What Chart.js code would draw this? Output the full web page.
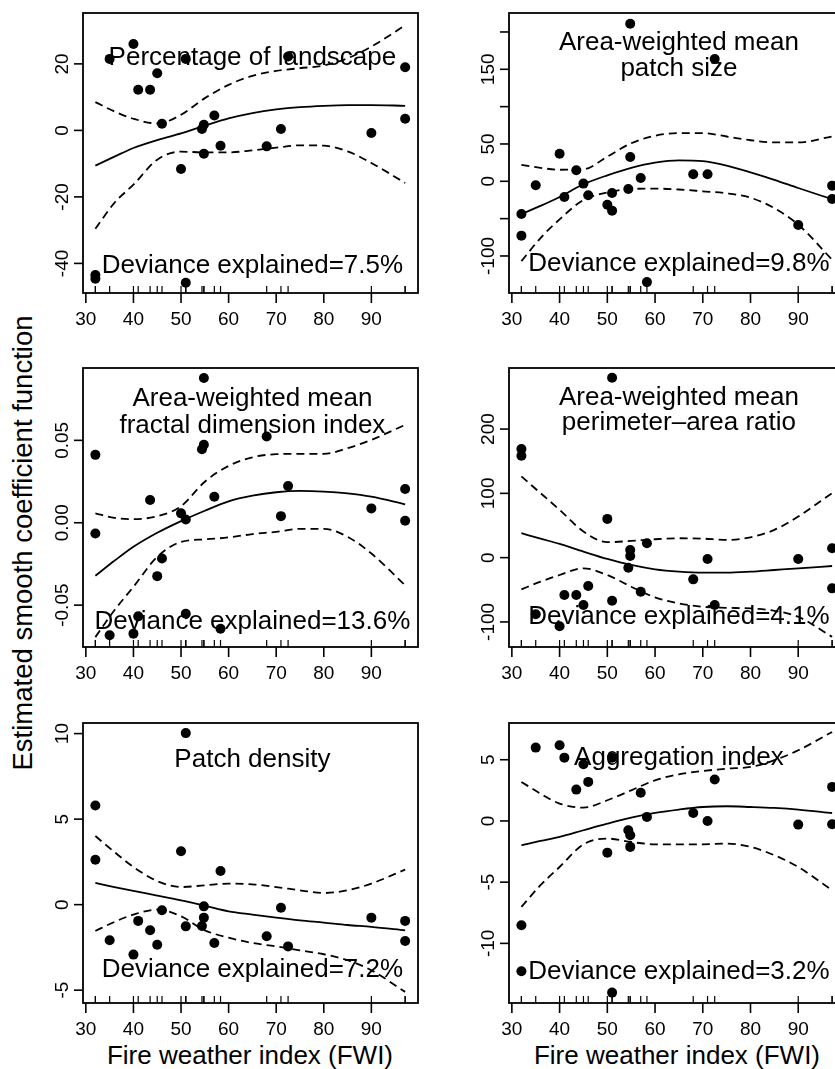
<!DOCTYPE html>
<html><head><meta charset="utf-8">
<script src="https://cdn.jsdelivr.net/npm/chart.js@4.4.0/dist/chart.umd.min.js"></script>
<style>
html,body{margin:0;padding:0;background:#fff;overflow:hidden;width:835px;height:1069px;}
#wrap{position:relative;width:835px;height:1069px;overflow:hidden;background:#fff;}
canvas{position:absolute;}
.lab{position:absolute;font-family:"Liberation Sans",Arial,sans-serif;color:#000;white-space:nowrap;line-height:1;}
</style></head>
<body><div id="wrap">
<div class="lab" id="ylab" style="font-size:27.5px;left:23px;top:543px;transform:translate(-50%,-50%) rotate(-90deg);">Estimated smooth coefficient function</div>
<div class="lab" style="font-size:26px;left:250px;top:1042px;transform:translateX(-50%);">Fire weather index (FWI)</div>
<div class="lab" style="font-size:26px;left:677px;top:1042px;transform:translateX(-50%);">Fire weather index (FWI)</div>
</div>
<script>
// ---------------- data ----------------
const xTickValues = [30, 40, 50, 60, 70, 80, 90];
const fwi = [32, 32, 35, 40, 41, 43.5, 45, 46, 50, 51, 51, 54.4, 54.8, 54.8, 57, 58.3, 68, 71, 72.5, 90, 97.1, 97.1];
const curveX = [32, 36, 40, 45, 50, 55, 60, 65, 70, 75, 80, 85, 90, 97.1];

// Percentage of landscape
const landY = [-43.5, -44.6, 21.5, 26, 12.2, 12.2, 17.2, 2, -11.6, 21.5, -45.8, 0.4, 1.7, -7, 4.5, -4.6, -4.8, 0.4, 22.2, -0.8, 19, 3.5];
const landFit = [-10.6, -7.9, -5.3, -2.9, -0.9, 1.4, 3.6, 5.2, 6.3, 7.0, 7.4, 7.6, 7.6, 7.4];
const landUpper = [8.5, 5.7, 3.5, 2.1, 4.7, 9.7, 13.7, 16.4, 17.9, 18.7, 19.5, 21.7, 25.2, 31.6];
const landLower = [-29.6, -21.8, -16.3, -8.8, -6.4, -6.6, -6.6, -6.0, -5.2, -4.5, -4.6, -6.3, -9.8, -15.8];
const landTicks = [-40, -20, 0, 20];
const landTickLabels = ['-40', '-20', '0', '20'];

// Area-weighted mean patch size
const sizeY = [-43.8, -72.8, -5.4, 37, -21, 14.7, -3.1, -18.8, -31.3, -15.6, -39.3, -10.3, 32.6, 211, 4.5, -135, 9.4, 9.4, 163.8, -58.5, -5.8, -23.7];
const sizeFit = [-44, -33, -21, -4, 8, 18, 25, 28, 27, 21, 12, 2, -9, -24];
const sizeUpper = [22, 18, 15.5, 16, 33, 51, 61, 64.5, 64.5, 60, 55, 52, 52, 60];
const sizeLower = [-107, -76, -51, -25, -15, -10.3, -9.8, -11, -13.4, -16, -22, -36, -58, -105];
const sizeTicks = [-100, -50, 0, 50, 100, 150, 200];
const sizeTickLabels = ['-100', '', '0', '50', '', '150', ''];

// Area-weighted mean fractal dimension index
const fracY = [0.0412, -0.0065, -0.0683, -0.0673, -0.0568, 0.0138, -0.0324, -0.0217, 0.0057, 0.002, -0.0552, 0.0446, 0.0473, 0.0878, 0.0158, -0.0643, 0.0523, 0.004, 0.0223, 0.0087, 0.0205, 0.0012];
const fracFit = [-0.0322, -0.0231, -0.0146, -0.0061, 0.001, 0.0073, 0.013, 0.0164, 0.0185, 0.0193, 0.0189, 0.0178, 0.0158, 0.0112];
const fracUpper = [0.0057, 0.003, 0.0022, 0.0040, 0.0100, 0.0249, 0.0345, 0.0397, 0.0416, 0.0418, 0.0418, 0.0452, 0.0503, 0.0594];
const fracLower = [-0.0694, -0.0531, -0.0389, -0.0207, -0.0116, -0.0101, -0.0089, -0.0069, -0.0055, -0.0037, -0.0037, -0.0085, -0.0187, -0.0379];
const fracTicks = [-0.05, 0, 0.05];
const fracTickLabels = ['-0.05', '0.00', '0.05'];

// Area-weighted mean perimeter-area ratio
const paraY = [169, 158.6, -88, -106.6, -58.2, -58.2, -73.8, -44.2, 60.3, 279.8, -67, -15.6, 2.6, 12, -53, 22.4, -33.8, -2, -73.8, -2, 14.6, -47.8];
const paraFit = [38, 29.6, 21.3, 9.4, -2, -11.4, -18.2, -21.8, -23.4, -23.4, -21.8, -19.2, -16.6, -13];
const paraUpper = [126.4, 100.4, 74.4, 40.6, 24, 26, 28.6, 30.2, 29.6, 27.6, 31.7, 43.2, 64, 100.4];
const paraLower = [-49.4, -37.4, -27, -16.6, -27, -45.2, -61.9, -71.2, -76.4, -78, -79, -82.7, -92, -123.2];
const paraTicks = [-100, 0, 100, 200];
const paraTickLabels = ['-100', '0', '100', '200'];

// Patch density
const densY = [5.8, 2.63, -2.08, -2.92, -0.95, -1.5, -2.34, -0.33, 3.12, 10.03, -1.27, -1.25, -0.76, -0.1, -2.24, 1.97, -1.85, -0.18, -2.44, -0.76, -0.95, -2.12];
const densFit = [1.27, 1.03, 0.8, 0.53, 0.25, -0.06, -0.39, -0.58, -0.76, -0.92, -1.05, -1.19, -1.3, -1.5];
const densUpper = [4.01, 3.08, 2.2, 1.38, 1.03, 1.13, 1.23, 1.19, 1.03, 0.84, 0.68, 0.84, 1.23, 2.05];
const densLower = [-1.54, -1.01, -0.58, -0.29, -0.68, -1.5, -1.93, -2.24, -2.44, -2.67, -2.9, -3.25, -3.84, -5.1];
const densTicks = [-5, 0, 5, 10];
const densTickLabels = ['-5', '0', '5', '10'];

// Aggregation index
const aggY = [-8.52, -12.28, 5.99, 6.18, 5.17, 2.56, 4.63, 3.19, -2.59, 5.17, -14.02, -0.76, -1.17, -2.12, 2.31, 0.33, 0.65, 0, 3.38, -0.3, 2.78, -0.27];
const aggFit = [-1.99, -1.63, -1.31, -0.76, -0.22, 0.27, 0.65, 0.93, 1.14, 1.2, 1.14, 1.06, 0.93, 0.65];
const aggUpper = [3.19, 2.23, 1.42, 1.09, 1.69, 2.5, 3.32, 3.81, 4.08, 4.27, 4.41, 4.96, 5.77, 7.27];
const aggLower = [-7.02, -5.25, -3.76, -1.91, -1.44, -1.72, -1.91, -1.91, -1.91, -1.85, -2.12, -2.8, -3.76, -5.66];
const aggTicks = [-10, -5, 0, 5];
const aggTickLabels = ['-10', '-5', '0', '5'];

const titles = [
  ['Percentage of landscape'],
  ['Area-weighted mean', 'patch size'],
  ['Area-weighted mean', 'fractal dimension index'],
  ['Area-weighted mean', 'perimeter\u2013area ratio'],
  ['Patch density'],
  ['Aggregation index']
];
const deviance = ['7.5%', '9.8%', '13.6%', '4.1%', '7.2%', '3.2%'];

// ---------------- panels (data bundles) ----------------
const panelData = [
  {y: landY, fit: landFit, up: landUpper, lo: landLower, ticks: landTicks, labels: landTickLabels},
  {y: sizeY, fit: sizeFit, up: sizeUpper, lo: sizeLower, ticks: sizeTicks, labels: sizeTickLabels},
  {y: fracY, fit: fracFit, up: fracUpper, lo: fracLower, ticks: fracTicks, labels: fracTickLabels},
  {y: paraY, fit: paraFit, up: paraUpper, lo: paraLower, ticks: paraTicks, labels: paraTickLabels},
  {y: densY, fit: densFit, up: densUpper, lo: densLower, ticks: densTicks, labels: densTickLabels},
  {y: aggY, fit: aggFit, up: aggUpper, lo: aggLower, ticks: aggTicks, labels: aggTickLabels}
];

// ---------------- layout (pixels / axis ranges) ----------------
const layout = [
  {cv: [0, 0, 426, 355],   box: [83, 13, 418, 293],   yr: [-48.9, 35.3],     tb: [52],     db: 20},
  {cv: [426, 0, 474, 355], box: [509, 13, 845, 293],  yr: [-149.6, 225.4],   tb: [37, 63], db: 22.5},
  {cv: [0, 355, 426, 355], box: [83, 368, 418, 647],  yr: [-0.0754, 0.0939], tb: [38, 65], db: 18.5},
  {cv: [426, 355, 474, 355], box: [509, 368, 845, 647], yr: [-139, 295],     tb: [37, 62], db: 23.5},
  {cv: [0, 710, 426, 359], box: [83, 723, 418, 1003], yr: [-5.75, 10.62],    tb: [44],     db: 26},
  {cv: [426, 710, 474, 359], box: [509, 723, 845, 1003], yr: [-14.87, 8.0],  tb: [42],     db: 24.5}
];

const FONT = '"Liberation Sans", Arial, Helvetica, sans-serif';

const rPlot = {
  id: 'rPlot',
  afterDraw(chart, args, o) {
    const ctx = chart.ctx, a = chart.chartArea, xs = chart.scales.x, ys = chart.scales.y;
    ctx.save();
    ctx.strokeStyle = '#000'; ctx.fillStyle = '#000'; ctx.lineCap = 'butt';
    const seg = (x1, y1, x2, y2) => { ctx.beginPath(); ctx.moveTo(x1, y1); ctx.lineTo(x2, y2); ctx.stroke(); };
    // rug
    ctx.lineWidth = 1.2;
    for (const v of fwi) { const px = xs.getPixelForValue(v); seg(px, a.bottom, px, a.bottom - 7); }
    // box
    ctx.lineWidth = 1.8;
    ctx.strokeRect(a.left, a.top, a.right - a.left, a.bottom - a.top);
    // x axis
    ctx.lineWidth = 1.6;
    ctx.font = '19px ' + FONT; ctx.textAlign = 'center'; ctx.textBaseline = 'alphabetic';
    for (const v of xTickValues) {
      const px = xs.getPixelForValue(v);
      seg(px, a.bottom, px, a.bottom + 10);
      ctx.fillText(String(v), px, a.bottom + 32);
    }
    // y axis
    o.ticks.forEach((v, i) => {
      const py = ys.getPixelForValue(v);
      seg(a.left, py, a.left - 9, py);
      if (o.labels[i]) {
        ctx.save(); ctx.translate(a.left - 15, py); ctx.rotate(-Math.PI / 2);
        ctx.fillText(o.labels[i], 0, 0); ctx.restore();
      }
    });
    // title + deviance text, centred at FWI = 65
    const cx = xs.getPixelForValue(65);
    ctx.font = '26px ' + FONT;
    o.title.forEach((t, i) => ctx.fillText(t, cx, a.top + o.tb[i]));
    ctx.fillText('Deviance explained=' + o.dev, cx, a.bottom - o.db);
    ctx.restore();
  }
};

const wrap = document.getElementById('wrap');
panelData.forEach((p, i) => {
  const L = layout[i];
  const cv = document.createElement('canvas');
  cv.width = L.cv[2]; cv.height = L.cv[3];
  cv.style.left = L.cv[0] + 'px'; cv.style.top = L.cv[1] + 'px';
  cv.style.width = L.cv[2] + 'px'; cv.style.height = L.cv[3] + 'px';
  wrap.appendChild(cv);
  const pts = fwi.map((x, k) => ({x: x, y: p.y[k]}));
  const mk = arr => curveX.map((x, k) => ({x: x, y: arr[k]}));
  const lineDs = (arr, dash) => ({
    data: mk(arr), showLine: true, pointRadius: 0, borderColor: '#000', borderWidth: 1.8,
    borderDash: dash, cubicInterpolationMode: 'monotone', fill: false
  });
  new Chart(cv, {
    type: 'scatter',
    data: {datasets: [
      {data: pts, pointRadius: 5, pointBackgroundColor: '#000', pointBorderColor: '#000', pointBorderWidth: 0, clip: false},
      lineDs(p.fit, []),
      lineDs(p.up, [8, 5]),
      lineDs(p.lo, [8, 5])
    ]},
    options: {
      responsive: false, animation: false, devicePixelRatio: 1,
      events: [],
      layout: {padding: {
        left: L.box[0] - L.cv[0], right: L.cv[0] + L.cv[2] - L.box[2],
        top: L.box[1] - L.cv[1], bottom: L.cv[1] + L.cv[3] - L.box[3]
      }},
      scales: {
        x: {type: 'linear', min: 29.4, max: 99.8, display: false},
        y: {type: 'linear', min: L.yr[0], max: L.yr[1], display: false}
      },
      plugins: {
        legend: {display: false}, tooltip: {enabled: false},
        rPlot: {ticks: p.ticks, labels: p.labels, title: titles[i], tb: L.tb, dev: deviance[i], db: L.db}
      }
    },
    plugins: [rPlot]
  });
});
</script>
</body></html>
